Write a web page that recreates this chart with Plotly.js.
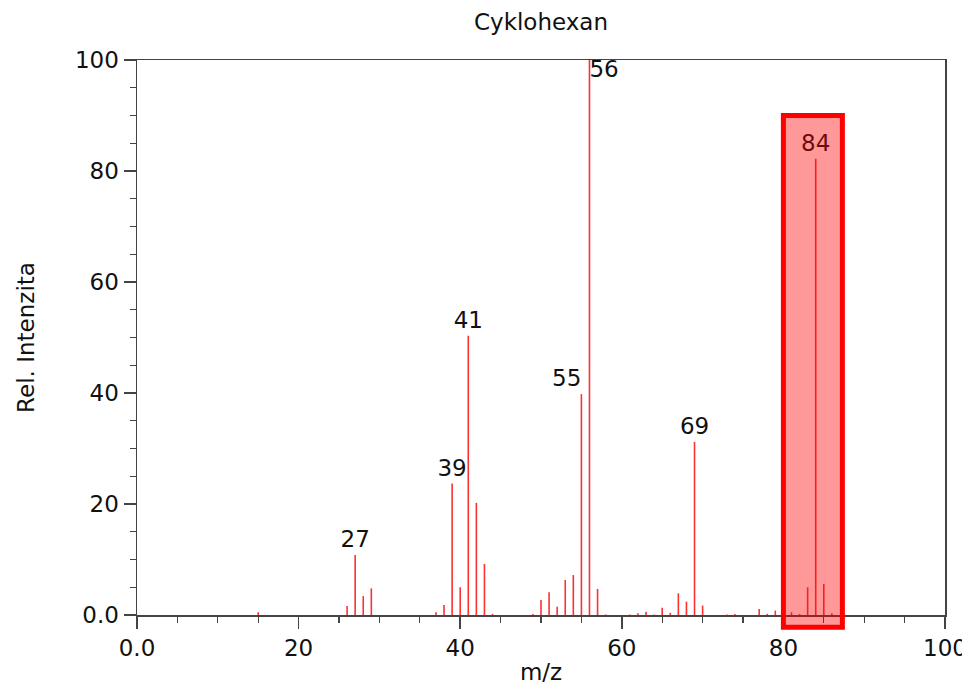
<!DOCTYPE html>
<html>
<head>
<meta charset="utf-8">
<script src="https://cdn.plot.ly/plotly-3.0.1.min.js"></script>
<style>html,body{margin:0;padding:0;background:#fff;}#chart{width:962px;height:685px;}</style>
</head>
<body>
<div id="chart"></div>
<script>
// m/z values and relative intensities
var mz = [15, 26, 27, 28, 29, 37, 38, 39, 40, 41, 42, 43, 44, 49, 50, 51, 52, 53, 54, 55, 56, 57, 58,
          61, 62, 63, 64, 65, 66, 67, 68, 69, 70, 73, 74, 77, 78, 79, 81, 82, 83, 84, 85, 86];
var intensity = [0.5, 1.6, 10.8, 3.4, 4.8, 0.5, 1.8, 23.7, 5.0, 50.3, 20.2, 9.2, 0.2, 0.2, 2.7, 4.1, 1.5, 6.3, 7.2, 39.8, 100, 4.7, 0.1,
                 0.1, 0.3, 0.6, 0.1, 1.3, 0.4, 3.9, 2.4, 31.2, 1.7, 0.1, 0.2, 1.1, 0.2, 0.8, 0.5, 0.2, 5.0, 82.2, 5.6, 0.3];
var labelMz = [27, 39, 41, 55, 56, 69, 84];
var labelPos = ['top center', 'top center', 'top center', 'top left', 'bottom right', 'top center', 'top center'];
var highlightRange = [80, 87.3];
var xTickVals = [0, 20, 40, 60, 80, 100];
var xTickText = ['0.0', '20', '40', '60', '80', '100'];
var yTickVals = [0, 20, 40, 60, 80, 100];
var yTickText = ['0.0', '20', '40', '60', '80', '100'];

var FONT = 'DejaVu Sans, sans-serif';
var FS = 23;

// stick spectrum: each peak is a vertical segment from 0 to its intensity
var stickX = [], stickY = [];
mz.forEach(function (m, i) {
  stickX.push(m, m, null);
  stickY.push(0, intensity[i], null);
});
var labelY = labelMz.map(function (m) {
  var v = intensity[mz.indexOf(m)];
  return v >= 100 ? v : v + 0.4;
});

var traces = [
  {
    type: 'scatter', mode: 'lines', x: stickX, y: stickY,
    line: {color: 'rgb(250,50,50)', width: 1.6},
    connectgaps: false, hoverinfo: 'skip', showlegend: false
  },
  {
    type: 'scatter', mode: 'text', x: labelMz, y: labelY,
    text: labelMz.map(String), textposition: labelPos,
    textfont: {family: FONT, size: FS, color: '#111'},
    cliponaxis: false, hoverinfo: 'skip', showlegend: false
  }
];

var axisCommon = {
  showgrid: false, zeroline: false, showline: true, linecolor: '#444', linewidth: 1.5,
  mirror: true, ticks: 'outside', ticklen: 12, tickwidth: 1.5, tickcolor: '#444',
  tickfont: {family: FONT, size: FS, color: '#111'}, ticklabeloverflow: 'allow',
  minor: {tick0: 0, dtick: 5, ticks: 'outside', ticklen: 6, tickwidth: 1.2, tickcolor: '#444'}
};

var layout = {
  width: 962, height: 685,
  margin: {l: 137, r: 17, t: 60, b: 70},
  paper_bgcolor: '#fff', plot_bgcolor: '#fff',
  title: {text: 'Cyklohexan', font: {family: FONT, size: FS, color: '#111'}, xref: 'paper', x: 0.5, xanchor: 'center', yref: 'container', y: 0.968, yanchor: 'middle'},
  xaxis: Object.assign({}, axisCommon, {
    range: [0, 100], tickmode: 'array', tickvals: xTickVals, ticktext: xTickText,
    title: {text: 'm/z', font: {family: FONT, size: FS, color: '#111'}, standoff: 6}
  }),
  yaxis: Object.assign({}, axisCommon, {
    range: [0, 100], tickmode: 'array', tickvals: yTickVals, ticktext: yTickText,
    title: {text: 'Rel. Intenzita', font: {family: FONT, size: FS, color: '#111'}, standoff: 34}
  }),
  shapes: [{
    type: 'rect', layer: 'above', xref: 'x', yref: 'paper',
    x0: highlightRange[0], x1: highlightRange[1], y0: -0.022, y1: 0.9,
    fillcolor: 'rgba(255,0,0,0.4)', line: {color: 'rgb(255,0,0)', width: 5}
  }]
};

Plotly.newPlot('chart', traces, layout, {displayModeBar: false, staticPlot: true});
</script>
</body>
</html>
